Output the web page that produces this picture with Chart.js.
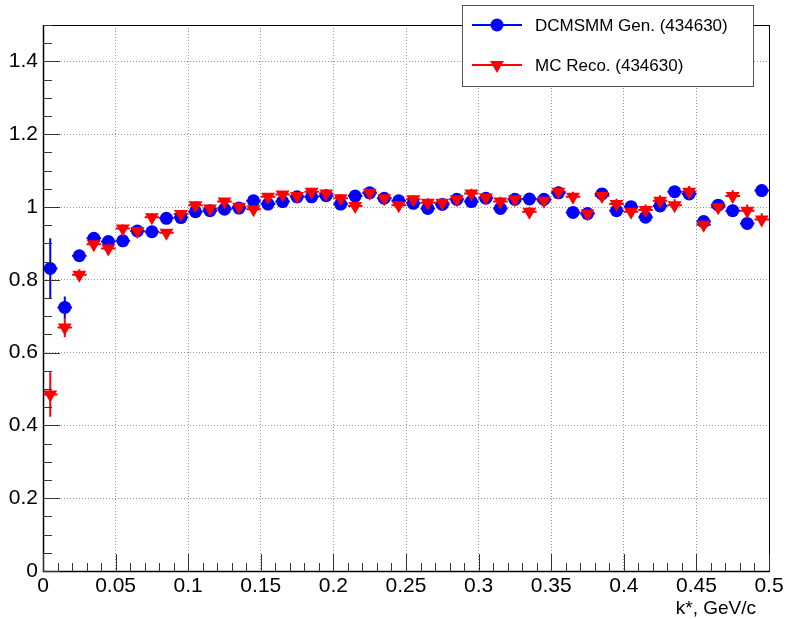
<!DOCTYPE html>
<html>
<head>
<meta charset="utf-8">
<script src="https://cdn.jsdelivr.net/npm/chart.js@4.4.0/dist/chart.umd.min.js"></script>
<style>
html, body { margin: 0; padding: 0; background: #fff; }
#wrap { width: 788px; height: 619px; }
</style>
</head>
<body>
<div id="wrap"><canvas id="kstarChart" width="788" height="619"></canvas></div>
<script>
// k* bin centres (GeV/c), 0.01 wide bins
var kStar = [0.005, 0.015, 0.025, 0.035, 0.045, 0.055, 0.065, 0.075, 0.085, 0.095,
             0.105, 0.115, 0.125, 0.135, 0.145, 0.155, 0.165, 0.175, 0.185, 0.195,
             0.205, 0.215, 0.225, 0.235, 0.245, 0.255, 0.265, 0.275, 0.285, 0.295,
             0.305, 0.315, 0.325, 0.335, 0.345, 0.355, 0.365, 0.375, 0.385, 0.395,
             0.405, 0.415, 0.425, 0.435, 0.445, 0.455, 0.465, 0.475, 0.485, 0.495];
var binHalfWidth = 0.005;

var genRatio = [0.831, 0.724, 0.866, 0.914, 0.905, 0.907, 0.934, 0.932, 0.969, 0.971,
                0.987, 0.990, 0.994, 0.997, 1.017, 1.008, 1.015, 1.028, 1.028, 1.031,
                1.008, 1.030, 1.039, 1.024, 1.017, 1.010, 0.996, 1.007, 1.021, 1.015,
                1.024, 0.996, 1.021, 1.022, 1.021, 1.039, 0.985, 0.982, 1.036, 0.990,
                1.001, 0.972, 1.003, 1.042, 1.036, 0.960, 1.005, 0.990, 0.955, 1.045];
var genErr = [0.083, 0.030, 0.015, 0.012, 0.011, 0.011, 0.011, 0.010, 0.010, 0.010,
              0.010, 0.010, 0.010, 0.010, 0.010, 0.010, 0.010, 0.011, 0.011, 0.011,
              0.011, 0.011, 0.012, 0.012, 0.012, 0.012, 0.012, 0.012, 0.013, 0.013,
              0.013, 0.013, 0.013, 0.014, 0.014, 0.014, 0.014, 0.014, 0.015, 0.015,
              0.015, 0.015, 0.015, 0.016, 0.016, 0.016, 0.016, 0.017, 0.017, 0.017];

var recoRatio = [0.485, 0.669, 0.814, 0.898, 0.886, 0.941, 0.934, 0.972, 0.929, 0.981,
                 1.005, 0.996, 1.015, 1.001, 0.994, 1.028, 1.034, 1.030, 1.042, 1.037,
                 1.024, 1.003, 1.039, 1.024, 1.005, 1.021, 1.012, 1.012, 1.021, 1.037,
                 1.026, 1.015, 1.021, 0.987, 1.017, 1.042, 1.028, 0.982, 1.030, 1.008,
                 0.987, 0.992, 1.017, 1.005, 1.042, 0.951, 0.999, 1.030, 0.990, 0.966];
var recoErr = [0.061, 0.027, 0.015, 0.012, 0.011, 0.011, 0.011, 0.010, 0.010, 0.010,
               0.010, 0.010, 0.010, 0.010, 0.010, 0.010, 0.010, 0.011, 0.011, 0.011,
               0.011, 0.011, 0.012, 0.012, 0.012, 0.012, 0.012, 0.012, 0.013, 0.013,
               0.013, 0.013, 0.013, 0.014, 0.014, 0.014, 0.014, 0.014, 0.015, 0.015,
               0.015, 0.015, 0.015, 0.016, 0.016, 0.016, 0.016, 0.017, 0.017, 0.017];

var xTicks = [0, 0.05, 0.1, 0.15, 0.2, 0.25, 0.3, 0.35, 0.4, 0.45, 0.5];
var yTicks = [0, 0.2, 0.4, 0.6, 0.8, 1.0, 1.2, 1.4];
var seriesLabels = ['DCMSMM Gen. (434630)', 'MC Reco. (434630)'];
var xTitle = 'k*, GeV/c';

var FONT = "'Liberation Sans', Arial, Helvetica, sans-serif";
var BLUE = '#0000ff';
var RED = '#ff0000';

function toPoints(xs, ys) {
    return xs.map(function (x, i) { return { x: x, y: ys[i] }; });
}

function drawMarker(ctx, style, x, y, color) {
    ctx.fillStyle = color;
    ctx.beginPath();
    if (style === 'circle') {
        ctx.arc(x, y, 6.5, 0, Math.PI * 2);
    } else {
        // downward triangle
        var r = 8;
        ctx.moveTo(x - r * 0.866, y - r * 0.5);
        ctx.lineTo(x + r * 0.866, y - r * 0.5);
        ctx.lineTo(x, y + r);
        ctx.closePath();
    }
    ctx.fill();
}

// ROOT-like frame, inward ticks, error bars and legend box
var rootStyle = {
    id: 'rootStyle',
    beforeDatasetsDraw: function (chart) {
        var ctx = chart.ctx;
        var xs = chart.scales.x, ys = chart.scales.y;
        var sets = [[genRatio, genErr, BLUE], [recoRatio, recoErr, RED]];
        ctx.save();
        ctx.lineWidth = 2;
        sets.forEach(function (s) {
            ctx.strokeStyle = s[2];
            kStar.forEach(function (k, i) {
                var px = xs.getPixelForValue(k);
                var py = ys.getPixelForValue(s[0][i]);
                ctx.beginPath();
                ctx.moveTo(xs.getPixelForValue(k - binHalfWidth), py);
                ctx.lineTo(xs.getPixelForValue(k + binHalfWidth), py);
                ctx.moveTo(px, ys.getPixelForValue(s[0][i] - s[1][i]));
                ctx.lineTo(px, ys.getPixelForValue(s[0][i] + s[1][i]));
                ctx.stroke();
            });
        });
        ctx.restore();
    },
    afterDraw: function (chart) {
        var ctx = chart.ctx;
        var a = chart.chartArea;
        var xs = chart.scales.x, ys = chart.scales.y;
        var i, p;
        ctx.save();

        // frame
        ctx.strokeStyle = '#000';
        ctx.lineWidth = 1;
        ctx.strokeRect(Math.round(a.left) + 0.5, Math.round(a.top) + 0.5,
                       Math.round(a.right - a.left), Math.round(a.bottom - a.top));
        ctx.beginPath();
        ctx.lineWidth = 1.5;
        ctx.moveTo(a.left + 0.5, a.top);
        ctx.lineTo(a.left + 0.5, a.bottom + 0.5);
        ctx.lineTo(a.right, a.bottom + 0.5);
        ctx.stroke();

        // ticks
        ctx.lineWidth = 1;
        ctx.strokeStyle = '#333';
        ctx.beginPath();
        for (i = 0; i <= 30; i++) {
            p = Math.round(ys.getPixelForValue(i * 0.05)) + 0.5;
            ctx.moveTo(a.left, p);
            ctx.lineTo(a.left + (i % 4 === 0 ? 17 : 9), p);
        }
        for (i = 0; i <= 50; i++) {
            p = Math.round(xs.getPixelForValue(i * 0.01)) + 0.5;
            ctx.moveTo(p, a.bottom);
            ctx.lineTo(p, a.bottom - (i % 5 === 0 ? 17 : 8));
        }
        ctx.stroke();

        // axis title
        ctx.fillStyle = '#000';
        ctx.font = '19px ' + FONT;
        ctx.textAlign = 'right';
        ctx.textBaseline = 'middle';
        ctx.fillText(xTitle, a.right - 13, 609);

        // legend
        var bx = 462, by = 5, bw = 291, bh = 81;
        ctx.fillStyle = '#fff';
        ctx.fillRect(bx, by, bw, bh);
        ctx.strokeStyle = '#555';
        ctx.lineWidth = 1;
        ctx.strokeRect(bx + 0.5, by + 0.5, bw, bh);
        var rows = [[seriesLabels[0], BLUE, 'circle', 25], [seriesLabels[1], RED, 'triangle', 65]];
        rows.forEach(function (r) {
            ctx.strokeStyle = r[1];
            ctx.lineWidth = 2;
            ctx.beginPath();
            ctx.moveTo(472, r[3]);
            ctx.lineTo(522, r[3]);
            ctx.stroke();
            drawMarker(ctx, r[2], 497, r[3], r[1]);
            ctx.fillStyle = '#000';
            ctx.font = '17px ' + FONT;
            ctx.textAlign = 'left';
            ctx.textBaseline = 'middle';
            ctx.fillText(r[0], 535, r[3] + 1);
        });
        ctx.restore();
    }
};

function fmt(v) {
    return String(Math.round(v * 100) / 100);
}

new Chart(document.getElementById('kstarChart').getContext('2d'), {
    type: 'scatter',
    data: {
        datasets: [
            {
                label: seriesLabels[0],
                data: toPoints(kStar, genRatio),
                backgroundColor: BLUE,
                borderColor: BLUE,
                pointStyle: 'circle',
                pointRadius: 6.5,
                pointBorderWidth: 0,
                order: 1
            },
            {
                label: seriesLabels[1],
                data: toPoints(kStar, recoRatio),
                backgroundColor: RED,
                borderColor: RED,
                pointStyle: 'triangle',
                rotation: 180,
                pointRadius: 8,
                pointBorderWidth: 0,
                order: 0
            }
        ]
    },
    options: {
        responsive: false,
        animation: false,
        devicePixelRatio: 1,
        layout: { padding: { top: 25, right: 19, left: 0, bottom: 0 } },
        plugins: {
            legend: { display: false },
            tooltip: { enabled: false }
        },
        scales: {
            x: {
                type: 'linear',
                min: 0,
                max: 0.5,
                afterBuildTicks: function (scale) {
                    scale.ticks = xTicks.map(function (v) { return { value: v }; });
                },
                afterFit: function (scale) { scale.height = 48; },
                ticks: {
                    callback: fmt,
                    maxRotation: 0,
                    autoSkip: false,
                    padding: 3,
                    color: '#000',
                    font: { family: FONT, size: 21 }
                },
                grid: { color: '#9a9a9a', lineWidth: 1, drawTicks: false },
                border: { display: false, dash: [1, 2] }
            },
            y: {
                type: 'linear',
                min: 0,
                max: 1.5,
                afterBuildTicks: function (scale) {
                    scale.ticks = yTicks.map(function (v) { return { value: v }; });
                },
                afterFit: function (scale) { scale.width = 43; },
                ticks: {
                    callback: fmt,
                    autoSkip: false,
                    padding: 5,
                    color: '#000',
                    font: { family: FONT, size: 21 }
                },
                grid: { color: '#9a9a9a', lineWidth: 1, drawTicks: false },
                border: { display: false, dash: [1, 2] }
            }
        }
    },
    plugins: [rootStyle]
});
</script>
</body>
</html>
